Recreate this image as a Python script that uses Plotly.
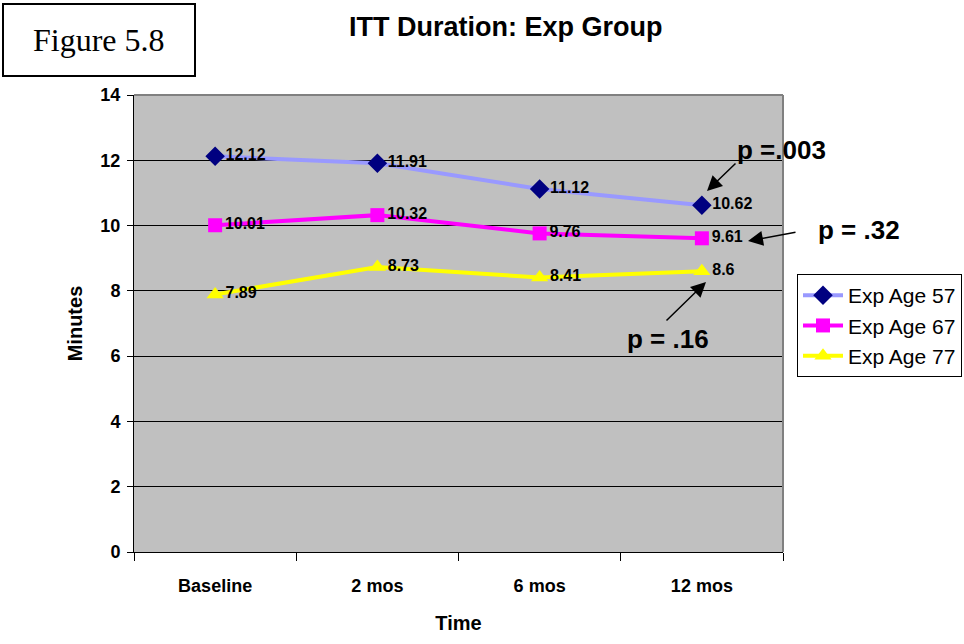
import plotly.graph_objects as go

categories = ["Baseline", "2 mos", "6 mos", "12 mos"]
age57 = [12.12, 11.91, 11.12, 10.62]
age67 = [10.01, 10.32, 9.76, 9.61]
age77 = [7.89, 8.73, 8.41, 8.6]
series_names = ["Exp Age 57", "Exp Age 67", "Exp Age 77"]
y_ticks = [0, 2, 4, 6, 8, 10, 12, 14]

SANS = "Liberation Sans, Arial, sans-serif"
SERIF = "Liberation Serif, Times New Roman, serif"

# plot area in pixels
L, R, T, B = 134, 783, 95, 552
W, H = 964, 644
def px(x):
    return (x - L) / (R - L)
def py(y):
    return (B - y) / (B - T)

fig = go.Figure()

styles = [
    dict(line=dict(color="#9999FF", width=4), marker=dict(symbol="diamond", size=15, color="#000080")),
    dict(line=dict(color="#FF00FF", width=4), marker=dict(symbol="square", size=14, color="#FF00FF")),
    dict(line=dict(color="#FFFF00", width=4), marker=dict(symbol="triangle-up", size=15, color="#FFFF00")),
]
for i, (name, vals) in enumerate(zip(series_names, [age57, age67, age77])):
    fig.add_trace(go.Scatter(
        x=categories, y=vals, name=name, mode="lines+markers+text",
        text=[f"{v:.2f}".rstrip("0").rstrip(".") if v != 10.01 else "10.01" for v in vals],
        textposition="middle right",
        textfont=dict(family=SANS, size=16, color="black", weight="bold"),
        legendgroup=f"g{i}",
        **styles[i],
    ))

fig.update_layout(
    width=W, height=H,
    margin=dict(l=L, r=W - R, t=T, b=H - B, pad=0, autoexpand=False),
    paper_bgcolor="white",
    plot_bgcolor="#C0C0C0",
    font=dict(family=SANS, color="black"),
    showlegend=True,
    legend=dict(
        x=px(797), y=py(274), xanchor="left", yanchor="top",
        bgcolor="white", bordercolor="black", borderwidth=1,
        font=dict(family=SANS, size=21, color="black"),
        traceorder="grouped", tracegroupgap=0, itemwidth=40,
    ),
    xaxis=dict(
        type="category", range=[-0.5, 3.5],
        showline=True, linecolor="black", linewidth=1,
        ticks="outside", ticklen=8, tickcolor="black", tickson="boundaries",
        showgrid=False,
        tickfont=dict(family=SANS, size=18, color="black", weight="bold"),
        ticklabelstandoff=17,
        title=dict(text="Time", font=dict(family=SANS, size=20, color="black", weight="bold"), standoff=21),
    ),
    yaxis=dict(
        range=[0, 14], tickvals=y_ticks,
        showline=True, linecolor="black", linewidth=1,
        ticks="outside", ticklen=6, tickcolor="black",
        showgrid=True, gridcolor="black", gridwidth=1,
        zeroline=False,
        tickfont=dict(family=SANS, size=18, color="black", weight="bold"),
        ticklabelstandoff=3,
        title=dict(text="Minutes", font=dict(family=SANS, size=20, color="black", weight="bold"), standoff=12),
    ),
)

# gray plot border (top and right)
fig.add_shape(type="line", xref="paper", yref="paper", x0=0, x1=1, y0=1, y1=1,
              line=dict(color="#808080", width=2), layer="above")
fig.add_shape(type="line", xref="paper", yref="paper", x0=1, x1=1, y0=0, y1=1,
              line=dict(color="#808080", width=2), layer="above")

# Figure label box
fig.add_shape(type="rect", xref="paper", yref="paper",
              x0=px(3), x1=px(195), y0=py(76), y1=py(4),
              line=dict(color="black", width=2), fillcolor="white")
fig.add_annotation(text="Figure 5.8", xref="paper", yref="paper", x=px(99), y=py(40),
                   xanchor="center", yanchor="middle",
                   showarrow=False, font=dict(family=SERIF, size=32, color="black"))

# Title
fig.add_annotation(text="<b>ITT Duration: Exp Group</b>", xref="paper", yref="paper",
                   x=px(505), y=py(27), xanchor="center", yanchor="middle", showarrow=False,
                   font=dict(family=SANS, size=27, color="black"))

# p-value annotations with arrows
pnotes = [
    ("p =.003", (781, 150), (707, 191), (737, 162)),
    ("p = .32", (859, 230), (748, 241), (797, 232)),
    ("p = .16", (668, 339), (706, 282), (665, 322)),
]
for text, (tx, ty), (hx, hy), (sx, sy) in pnotes:
    fig.add_annotation(text=f"<b>{text}</b>", xref="paper", yref="paper", x=px(tx), y=py(ty),
                       xanchor="center", yanchor="middle",
                       showarrow=False, font=dict(family=SANS, size=26, color="black"))
    fig.add_annotation(text="", xref="paper", yref="paper", x=px(hx), y=py(hy),
                       ax=sx - hx, ay=sy - hy, showarrow=True,
                       arrowhead=2, arrowsize=2, arrowwidth=1.5, arrowcolor="black", standoff=0)

fig.write_html("out.html")
